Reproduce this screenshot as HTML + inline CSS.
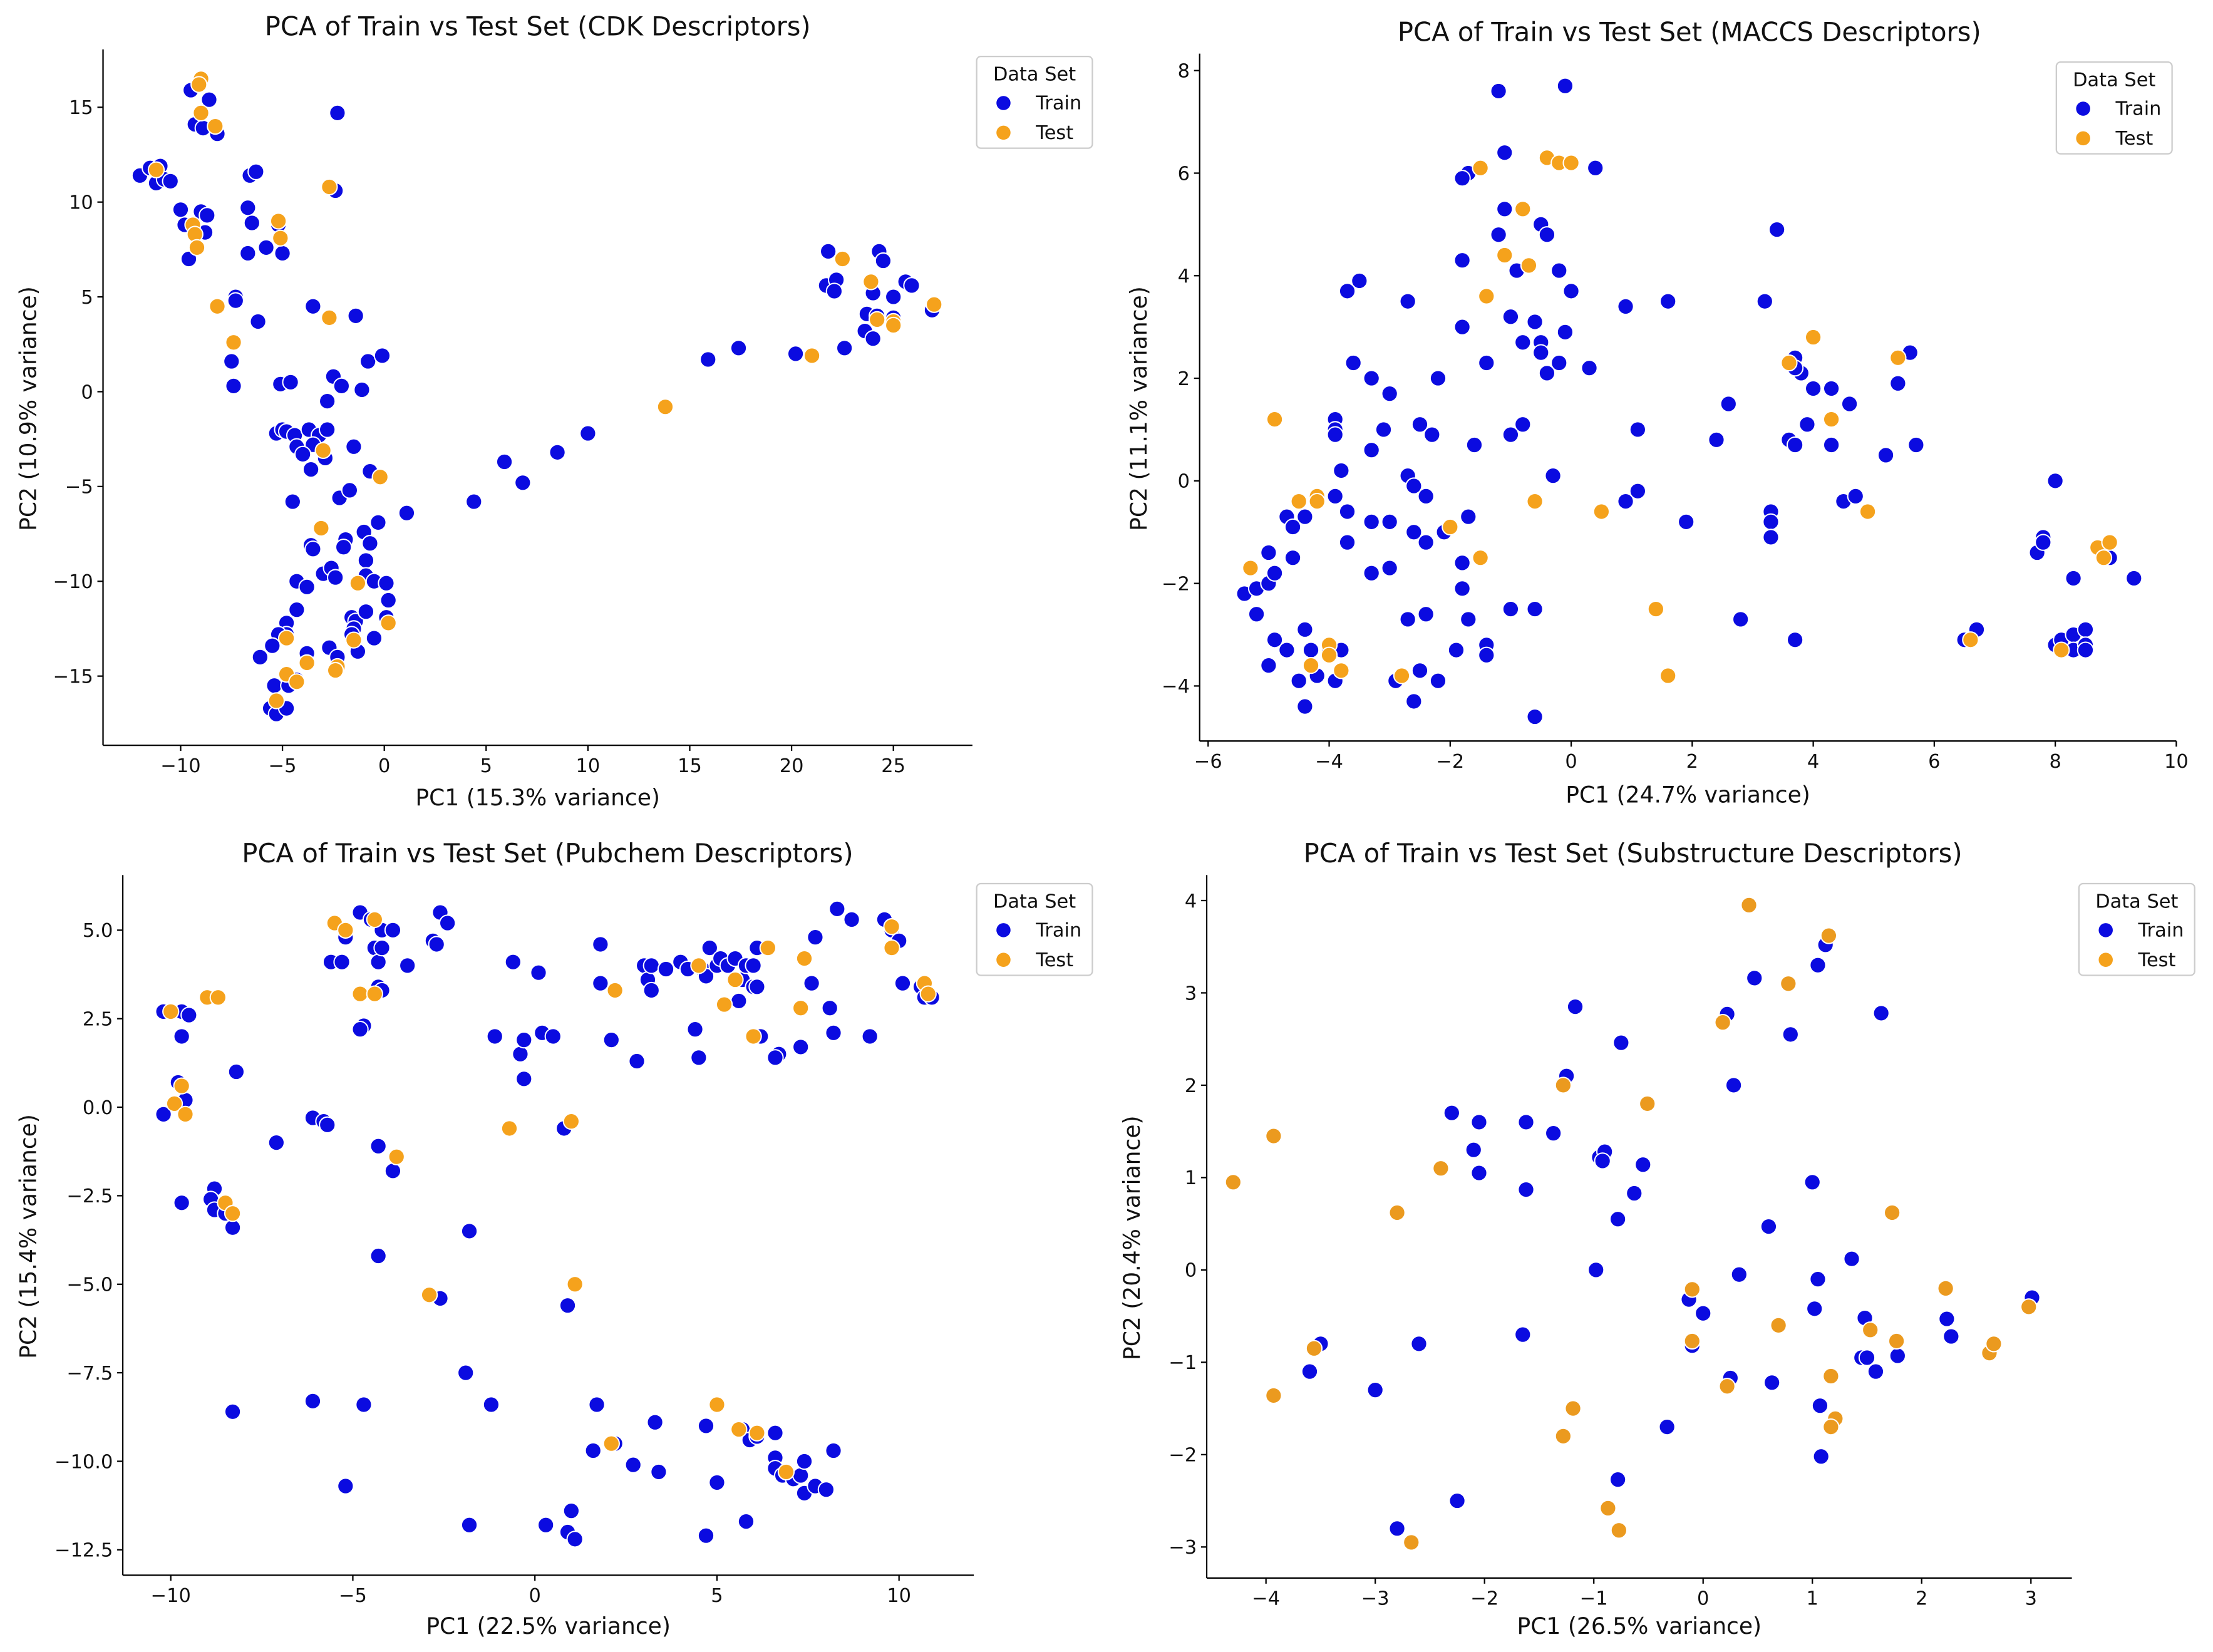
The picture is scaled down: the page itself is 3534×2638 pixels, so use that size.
<!DOCTYPE html>
<html><head><meta charset="utf-8">
<style>
html,body{margin:0;padding:0;background:#fff;}
svg{display:block;}
text{font-family:"DejaVu Sans","Liberation Sans",sans-serif;fill:#111;}
</style></head>
<body>
<svg id="fig" width="3534" height="2638" viewBox="0 0 1568 1170.4" preserveAspectRatio="none" xmlns="http://www.w3.org/2000/svg"></svg>
<script>
// ---------- DATA ----------
const cdkTrain=[[-12,11.4],[-11.5,11.8],[-11.2,11],[-11,11.9],[-10.8,11.2],[-10.5,11.1],[-9.5,15.9],[-9.3,14.1],[-8.9,13.9],[-8.6,15.4],[-8.2,13.6],[-10,9.6],[-9.8,8.8],[-9,9.5],[-8.7,9.3],[-8.8,8.4],[-9.6,7],[-6.6,11.4],[-6.3,11.6],[-6.7,9.7],[-6.5,8.9],[-5.8,7.6],[-6.7,7.3],[-5,7.3],[-5.2,8.8],[-2.3,14.7],[-2.4,10.6],[-7.3,5],[-7.3,4.8],[-6.2,3.7],[-7.5,1.6],[-7.4,0.3],[-3.5,4.5],[-1.4,4],[-0.8,1.6],[-0.1,1.9],[-5.1,0.4],[-4.6,0.5],[-2.5,0.8],[-2.1,0.3],[-1.1,0.1],[-2.8,-0.5],[-5.3,-2.2],[-5,-2],[-4.8,-2.1],[-4.4,-2.3],[-3.7,-2],[-3.2,-2.3],[-2.8,-2],[-3.5,-2.8],[-4.3,-2.9],[-4,-3.3],[-2.9,-3.5],[-3.6,-4.1],[-1.5,-2.9],[-0.7,-4.2],[-4.5,-5.8],[-2.2,-5.6],[-1.7,-5.2],[-0.3,-6.9],[1.1,-6.4],[4.4,-5.8],[5.9,-3.7],[6.8,-4.8],[8.5,-3.2],[10,-2.2],[15.9,1.7],[17.4,2.3],[20.2,2],[22.6,2.3],[21.8,7.4],[21.7,5.6],[22.2,5.9],[22.1,5.3],[24.3,7.4],[24.5,6.9],[24,5.2],[25,5],[25.6,5.8],[25.9,5.6],[23.7,4.1],[24.2,4],[25,3.9],[23.6,3.2],[24,2.8],[26.9,4.3],[-3.6,-8.1],[-3.5,-8.3],[-1.9,-7.8],[-2,-8.2],[-1,-7.4],[-0.7,-8],[-0.9,-8.9],[-3,-9.6],[-2.6,-9.3],[-2.4,-9.8],[-4.3,-10],[-3.8,-10.3],[-0.9,-9.7],[-0.5,-10],[0.1,-10.1],[0.2,-11],[-4.3,-11.5],[-1.6,-11.9],[-1.4,-12.1],[-0.9,-11.6],[-1.5,-12.5],[-1.6,-12.8],[0.1,-11.9],[-4.8,-12.2],[-4.8,-12.8],[-5.2,-12.8],[-5.5,-13.4],[-6.1,-14],[-3.8,-13.8],[-2.7,-13.5],[-2.3,-14],[-1.3,-13.7],[-0.5,-13],[-5.4,-15.5],[-4.7,-15.5],[-5.6,-16.7],[-5.3,-17],[-4.8,-16.7],[-4.3,-15.2]];
const cdkTest=[[-11.2,11.7],[-9,16.5],[-9.1,16.2],[-9,14.7],[-8.3,14],[-9.4,8.8],[-9.3,8.3],[-9.2,7.6],[-5.2,9],[-5.1,8.1],[-2.7,10.8],[-8.2,4.5],[-7.4,2.6],[-2.7,3.9],[-3,-3.1],[-0.2,-4.5],[-3.1,-7.2],[-1.3,-10.1],[0.2,-12.2],[-4.8,-13],[-1.5,-13.1],[-3.8,-14.3],[-2.3,-14.5],[-2.4,-14.7],[-4.8,-14.9],[-4.3,-15.3],[-5.3,-16.3],[13.8,-0.8],[21,1.9],[22.5,7],[23.9,5.8],[24.2,3.8],[25,3.7],[25,3.5],[27,4.6]];
const maccsTrain=[[-1.2,7.6],[-0.1,7.7],[-1.7,6],[-1.8,5.9],[-1.1,6.4],[0.4,6.1],[-1.1,5.3],[-1.2,4.8],[-0.5,5],[-0.4,4.8],[-1.8,4.3],[-0.9,4.1],[-0.2,4.1],[0,3.7],[-3.7,3.7],[-3.5,3.9],[-2.7,3.5],[-1,3.2],[-0.6,3.1],[-1.8,3],[-0.8,2.7],[-0.5,2.7],[-0.5,2.5],[-0.2,2.3],[-0.1,2.9],[-0.4,2.1],[-1.4,2.3],[0.3,2.2],[0.9,3.4],[1.6,3.5],[3.2,3.5],[3.4,4.9],[-3.6,2.3],[-3.3,2],[-3,1.7],[-2.2,2],[-3.9,1.2],[-3.9,1],[-3.9,0.9],[-3.1,1],[-2.5,1.1],[-2.3,0.9],[-0.8,1.1],[-1,0.9],[-1.6,0.7],[-3.3,0.6],[-3.8,0.2],[-2.7,0.1],[-2.6,-0.1],[-2.4,-0.3],[-0.3,0.1],[-3.9,-0.3],[-3.7,-0.6],[-3.3,-0.8],[-3,-0.8],[-2.6,-1],[-2.4,-1.2],[-2.1,-1],[-1.7,-0.7],[-4.7,-0.7],[-4.6,-0.9],[-4.4,-0.7],[-4.2,-0.3],[-3.7,-1.2],[-5,-1.4],[-4.6,-1.5],[-3.3,-1.8],[-3,-1.7],[-1.8,-1.6],[-1.8,-2.1],[-1.7,-2.7],[-2.7,-2.7],[-2.4,-2.6],[-1,-2.5],[-0.6,-2.5],[-5.4,-2.2],[-5.2,-2.1],[-5,-2],[-4.9,-1.8],[-5.2,-2.6],[-4.9,-3.1],[-4.7,-3.3],[-4.4,-2.9],[-4.3,-3.3],[-4,-3.3],[-3.8,-3.3],[-5,-3.6],[-4.5,-3.9],[-4.2,-3.8],[-3.9,-3.9],[-4.4,-4.4],[-2.9,-3.9],[-2.5,-3.7],[-2.2,-3.9],[-2.6,-4.3],[-1.9,-3.3],[-1.4,-3.2],[-1.4,-3.4],[-0.6,-4.6],[0.9,-0.4],[1.1,-0.2],[1.9,-0.8],[1.1,1],[2.4,0.8],[2.6,1.5],[2.8,-2.7],[3.3,-0.6],[3.3,-0.8],[3.3,-1.1],[3.6,0.8],[3.7,0.7],[3.9,1.1],[3.7,2.4],[3.8,2.1],[3.7,2.2],[4,1.8],[4.3,1.8],[4.3,0.7],[4.6,1.5],[4.5,-0.4],[4.7,-0.3],[5.2,0.5],[5.4,1.9],[5.6,2.5],[5.7,0.7],[3.7,-3.1],[6.5,-3.1],[6.7,-2.9],[7.7,-1.4],[7.8,-1.1],[7.8,-1.2],[8,0],[8.3,-1.9],[8.9,-1.5],[9.3,-1.9],[8,-3.2],[8.1,-3.1],[8.3,-3],[8.3,-3.3],[8.5,-2.9],[8.5,-3.2],[8.5,-3.3]];
const maccsTest=[[-1.5,6.1],[-0.4,6.3],[-0.2,6.2],[0,6.2],[-0.8,5.3],[-1.1,4.4],[-0.7,4.2],[-1.4,3.6],[-4.9,1.2],[-4.5,-0.4],[-4.2,-0.3],[-4.2,-0.4],[-2,-0.9],[-1.5,-1.5],[-0.6,-0.4],[0.5,-0.6],[-5.3,-1.7],[-4,-3.2],[-4,-3.4],[-3.8,-3.7],[-4.3,-3.6],[-2.8,-3.8],[1.4,-2.5],[1.6,-3.8],[3.6,2.3],[4,2.8],[4.3,1.2],[5.4,2.4],[4.9,-0.6],[6.6,-3.1],[8.1,-3.3],[8.7,-1.3],[8.8,-1.5],[8.9,-1.2]];
const pubTrain=[[-10.2,2.7],[-9.7,2.7],[-9.5,2.6],[-9.7,2],[-10.2,-0.2],[-9.8,0.7],[-9.6,0.2],[-9.7,-2.7],[-8.2,1],[-8.8,-2.3],[-8.9,-2.6],[-8.8,-2.9],[-8.5,-3],[-8.3,-3.4],[-7.1,-1],[-8.3,-8.6],[-6.1,-0.3],[-5.8,-0.4],[-5.7,-0.5],[-6.1,-8.3],[-5.2,-10.7],[-4.7,-8.4],[-4.3,-4.2],[-4.3,-1.1],[-3.9,-1.8],[-5.6,4.1],[-5.3,4.1],[-5.2,4.8],[-4.8,5.5],[-4.5,5.3],[-4.2,5],[-3.9,5],[-4.4,4.5],[-4.3,4.1],[-4.2,4.5],[-4.3,3.4],[-4.2,3.3],[-4.7,2.3],[-4.8,2.2],[-3.5,4],[-2.8,4.7],[-2.7,4.6],[-2.6,5.5],[-2.4,5.2],[-2.6,-5.4],[-1.8,-3.5],[-1.9,-7.5],[-1.2,-8.4],[-1.8,-11.8],[-1.1,2],[-0.6,4.1],[-0.4,1.5],[-0.3,1.9],[-0.3,0.8],[0.1,3.8],[0.2,2.1],[0.5,2],[0.3,-11.8],[0.9,-12],[1,-11.4],[1.1,-12.2],[0.9,-5.6],[0.8,-0.6],[1.6,-9.7],[1.7,-8.4],[1.8,3.5],[1.8,4.6],[2.1,1.9],[2.2,-9.5],[2.7,-10.1],[3,4],[3.1,3.6],[3.2,3.3],[3.2,4],[2.8,1.3],[3.3,-8.9],[3.4,-10.3],[3.6,3.9],[4,4.1],[4.2,3.9],[4.4,2.2],[4.5,1.4],[4.6,3.9],[4.7,3.7],[4.8,4.5],[5,4],[5.1,4.2],[5.3,4],[5.5,4.2],[5.6,3],[5.7,3.6],[5.8,4],[6,4],[6,3.4],[6.1,3.4],[6.2,2],[6.1,4.5],[4.7,-9],[5,-10.6],[4.7,-12.1],[5.8,-11.7],[5.7,-9.1],[5.9,-9.4],[6.1,-9.3],[6.6,-9.2],[6.6,-9.9],[6.6,-10.2],[6.7,1.5],[6.6,1.4],[6.8,-10.4],[7.1,-10.5],[7.3,-10.4],[7.4,-10.9],[7.4,-10],[7.7,-10.7],[8,-10.8],[8.2,-9.7],[7.3,1.7],[7.6,3.5],[7.7,4.8],[8.1,2.8],[8.2,2.1],[8.3,5.6],[8.7,5.3],[9.2,2],[9.6,5.3],[9.8,5],[10,4.7],[10.1,3.5],[10.6,3.4],[10.7,3.1],[10.9,3.1]];
const pubTest=[[-10,2.7],[-9,3.1],[-8.7,3.1],[-9.9,0.1],[-9.7,0.6],[-9.6,-0.2],[-8.5,-2.7],[-8.3,-3],[-5.5,5.2],[-5.2,5],[-4.4,5.3],[-4.8,3.2],[-4.4,3.2],[-3.8,-1.4],[-2.9,-5.3],[-0.7,-0.6],[1,-0.4],[1.1,-5],[2.1,-9.5],[2.2,3.3],[4.5,4],[5.2,2.9],[5.5,3.6],[6,2],[6.4,4.5],[5,-8.4],[5.6,-9.1],[6.1,-9.2],[6.9,-10.3],[7.3,2.8],[7.4,4.2],[9.8,5.1],[9.8,4.5],[10.7,3.5],[10.8,3.2]];
const subTrain=[[-3.6,-1.1],[-3.5,-0.8],[-3,-1.3],[-2.8,-2.8],[-2.6,-0.8],[-2.3,1.7],[-2.25,-2.5],[-2.1,1.3],[-2.05,1.6],[-2.05,1.05],[-1.62,1.6],[-1.62,0.87],[-1.65,-0.7],[-1.37,1.48],[-1.25,2.1],[-1.17,2.85],[-0.95,1.22],[-0.9,1.28],[-0.92,1.18],[-0.78,0.55],[-0.75,2.46],[-0.63,0.83],[-0.55,1.14],[-0.98,0],[-0.78,-2.27],[-0.33,-1.7],[-0.1,-0.82],[-0.13,-0.32],[0,-0.47],[0.22,2.77],[0.25,-1.17],[0.28,2],[0.33,-0.05],[0.47,3.16],[0.6,0.47],[0.63,-1.22],[0.8,2.55],[1,0.95],[1.05,-0.1],[1.02,-0.42],[1.07,-1.47],[1.08,-2.02],[1.05,3.3],[1.12,3.52],[1.36,0.12],[1.45,-0.95],[1.48,-0.52],[1.5,-0.95],[1.58,-1.1],[1.63,2.78],[1.78,-0.93],[2.23,-0.53],[2.27,-0.72],[3.01,-0.3]];
const subTest=[[-4.3,0.95],[-3.93,1.45],[-3.93,-1.36],[-3.56,-0.85],[-2.8,0.62],[-2.4,1.1],[-2.67,-2.95],[-1.28,2],[-1.28,-1.8],[-1.19,-1.5],[-0.87,-2.58],[-0.77,-2.82],[-0.51,1.8],[-0.1,-0.21],[-0.1,-0.77],[0.18,2.68],[0.22,-1.26],[0.42,3.95],[0.69,-0.6],[0.78,3.1],[1.15,3.62],[1.17,-1.15],[1.21,-1.61],[1.17,-1.7],[1.53,-0.65],[1.73,0.62],[1.77,-0.77],[2.22,-0.2],[2.62,-0.9],[2.66,-0.8],[2.98,-0.4]];
const cdkXTicks=[-10,-5,0,5,10,15,20,25];
const cdkYTicks=[-15,-10,-5,0,5,10,15];
const maccsXTicks=[-6,-4,-2,0,2,4,6,8,10];
const maccsYTicks=[-4,-2,0,2,4,6,8];
const pubXTicks=[-10,-5,0,5,10];
const pubYTicks=[-12.5,-10,-7.5,-5,-2.5,0,2.5,5];
const pubYLabels=["−12.5","−10.0","−7.5","−5.0","−2.5","0.0","2.5","5.0"];
const subXTicks=[-4,-3,-2,-1,0,1,2,3];
const subYTicks=[-3,-2,-1,0,1,2,3,4];

// ---------- LAYOUT ----------
const NS="http://www.w3.org/2000/svg";
const svg=document.getElementById('fig');
function mk(tag,attrs,parent){const e=document.createElementNS(NS,tag);for(const k in attrs)e.setAttribute(k,attrs[k]);(parent||svg).appendChild(e);return e;}
function lin(d0,p0,d1,p1){return v=>p0+(v-d0)*(p1-p0)/(d1-d0);}
const panels=[
 {id:'cdk',title:'PCA of Train vs Test Set (CDK Descriptors)',xl:'PC1 (15.3% variance)',yl:'PC2 (10.9% variance)',
  L:73,R:689,T:35,B:528,sx:lin(-10,128,25,633),sy:lin(15,76,-15,479),xt:cdkXTicks,yt:cdkYTicks,tr:cdkTrain,te:cdkTest,leg:[692,40],cx:381,ty:19,xly:565,ylx:20,tcol:'#f5a21c'},
 {id:'maccs',title:'PCA of Train vs Test Set (MACCS Descriptors)',xl:'PC1 (24.7% variance)',yl:'PC2 (11.1% variance)',
  L:850,R:1542,T:38,B:525,sx:lin(-6,856,10,1542),sy:lin(8,50,-4,486),xt:maccsXTicks,yt:maccsYTicks,tr:maccsTrain,te:maccsTest,leg:[1457,44],cx:1197,ty:23,xly:563,ylx:807,tcol:'#f5a21c'},
 {id:'pubchem',title:'PCA of Train vs Test Set (Pubchem Descriptors)',xl:'PC1 (22.5% variance)',yl:'PC2 (15.4% variance)',
  L:87,R:690,T:620,B:1116,sx:lin(-10,121,10,637),sy:lin(5,659,-12.5,1098),xt:pubXTicks,yt:pubYTicks,ylab:pubYLabels,tr:pubTrain,te:pubTest,leg:[692,626],cx:388,ty:605,xly:1152,ylx:20,tcol:'#f5a21c'},
 {id:'substructure',title:'PCA of Train vs Test Set (Substructure Descriptors)',xl:'PC1 (26.5% variance)',yl:'PC2 (20.4% variance)',
  L:855,R:1468,T:620,B:1118,sx:lin(-4,897,3,1439),sy:lin(4,638,-3,1096),xt:subXTicks,yt:subYTicks,tr:subTrain,te:subTest,leg:[1473,626],cx:1157,ty:605,xly:1152,ylx:802,tcol:'#eb9a1f'}
];
const fmt=v=>(v<0?'−':'')+Math.abs(v);
panels.forEach(p=>{
  const g=mk('g',{});
  
  
  const t=mk('text',{x:p.cx,y:p.ty+6,'text-anchor':'middle','font-size':18.5},g);t.textContent=p.title;
  
  
  const xa=mk('line',{x1:p.L,y1:p.B,x2:p.R,y2:p.B,stroke:'#000','stroke-width':1},g);
  
  
  const ya=mk('line',{x1:p.L,y1:p.T,x2:p.L,y2:p.B,stroke:'#000','stroke-width':1},g);
  
  
  p.xt.forEach(v=>{const x=p.sx(v);mk('line',{x1:x,y1:p.B,x2:x,y2:p.B+4,stroke:'#000','stroke-width':1},g);
    const tx=mk('text',{x:x,y:p.B+19,'text-anchor':'middle','font-size':13.5},g);tx.textContent=fmt(v);
    
    });
  p.yt.forEach((v,i)=>{const y=p.sy(v);mk('line',{x1:p.L-4,y1:y,x2:p.L,y2:y,stroke:'#000','stroke-width':1},g);
    const ty=mk('text',{x:p.L-7,y:y+4.8,'text-anchor':'end','font-size':13.5},g);ty.textContent=p.ylab?p.ylab[i]:fmt(v);
    
    });
  const xl=mk('text',{x:(p.L+p.R)/2,y:p.xly+5.5,'text-anchor':'middle','font-size':16},g);xl.textContent=p.xl;
  
  
  const ym=(p.T+p.B)/2+8;
  const yl=mk('text',{x:p.ylx,y:ym,'text-anchor':'middle','font-size':16,transform:`rotate(-90 ${p.ylx} ${ym})`,dy:5.5},g);yl.textContent=p.yl;
  
  
  p.tr.forEach(d=>{const c=mk('circle',{cx:p.sx(d[0]),cy:p.sy(d[1]),r:5.6,fill:'#0b0be0',stroke:'#fff','stroke-width':0.9},g);
    
    });
  p.te.forEach(d=>{const c=mk('circle',{cx:p.sx(d[0]),cy:p.sy(d[1]),r:5.6,fill:p.tcol,stroke:'#fff','stroke-width':0.9},g);
    
    });
  const [lx,ly]=p.leg;
  const lg=mk('g',{},g);
  
  
  mk('rect',{x:lx,y:ly,width:82,height:65,rx:3,fill:'#fff','fill-opacity':0.85,stroke:'#ccc','stroke-width':1},lg);
  const lt=mk('text',{x:lx+41,y:ly+17,'text-anchor':'middle','font-size':13.5},lg);lt.textContent='Data Set';
  mk('circle',{cx:lx+19,cy:ly+33,r:5,fill:'#0b0be0'},lg);
  const a=mk('text',{x:lx+42,y:ly+37.5,'font-size':13.5},lg);a.textContent='Train';
  
  
  mk('circle',{cx:lx+19,cy:ly+54,r:5,fill:'#f5a21c'},lg);
  const b=mk('text',{x:lx+42,y:ly+58.5,'font-size':13.5},lg);b.textContent='Test';
  
  
});
</script>
</body></html>
